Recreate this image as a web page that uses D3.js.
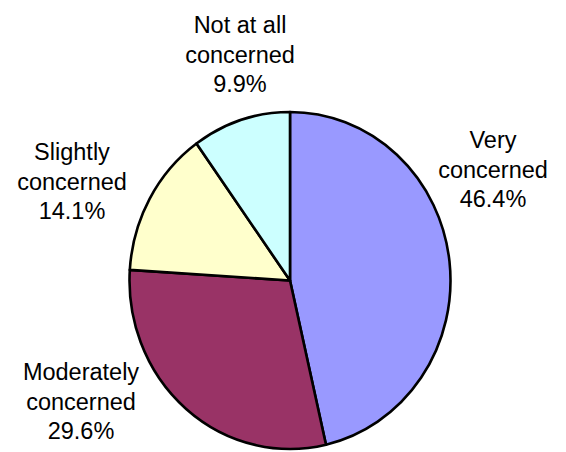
<html>
  <head>
    <meta charset="utf-8">
    <title>Concern pie</title>
    <script src="https://cdnjs.cloudflare.com/ajax/libs/d3/7.8.5/d3.min.js"></script>
    <style>
      body { margin: 0; background: #fff; }
      svg { display: block; }
    </style>
  </head>
  <body>
    <div id="chart"></div>
    <script>
      // data
      const categories = ['Very concerned', 'Moderately concerned', 'Slightly concerned', 'Not at all concerned'];
      const labelLines = [['Very', 'concerned'], ['Moderately', 'concerned'], ['Slightly', 'concerned'], ['Not at all', 'concerned']];
      const shares = [46.4, 29.6, 14.1, 9.9];
      const colors = ['#9999ff', '#993366', '#ffffcc', '#ccffff'];

      const width = 566, height = 452;
      const cx = 290, cy = 280.5, rx = 160.5, ry = 168.5;
      const lineH = 29.5;

      // where each label block sits (centre x, first baseline)
      const labelAnchor = [[493, 148], [81, 380], [72, 160], [240, 33]];

      const svg = d3.select('#chart').append('svg')
        .attr('width', width)
        .attr('height', height);

      const data = categories.map((c, i) => ({ name: c, value: shares[i], i }));

      const pie = d3.pie().value(d => d.value).sort(null);
      const arc = d3.arc().innerRadius(0).outerRadius(rx);

      const g = svg.append('g')
        .attr('transform', `translate(${cx},${cy}) scale(1,${ry / rx})`);

      g.selectAll('path')
        .data(pie(data))
        .join('path')
        .attr('d', arc)
        .attr('fill', d => colors[d.data.i])
        .attr('stroke', '#000')
        .attr('stroke-width', 2.6)
        .attr('stroke-linejoin', 'round')
        .attr('vector-effect', 'non-scaling-stroke');

      const labels = svg.selectAll('text.lbl')
        .data(data)
        .join('text')
        .attr('class', 'lbl')
        .attr('text-anchor', 'middle')
        .attr('font-family', 'Liberation Sans, Arial, sans-serif')
        .attr('font-size', 23.5)
        .attr('fill', '#000');

      labels.each(function (d) {
        const t = d3.select(this);
        const [x, y] = labelAnchor[d.i];
        const lines = labelLines[d.i].concat([d.value.toFixed(1) + '%']);
        lines.forEach((s, k) => {
          t.append('tspan').attr('x', x).attr('y', y + k * lineH).text(s);
        });
      });
    </script>
  </body>
</html>
